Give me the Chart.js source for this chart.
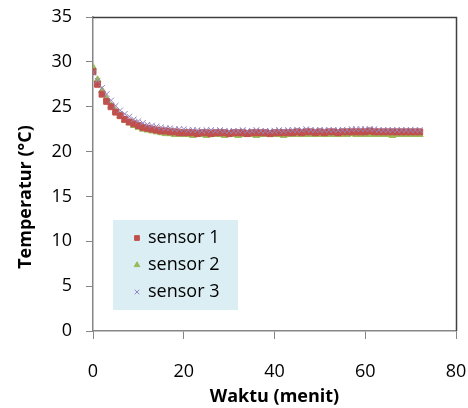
<!DOCTYPE html>
<html>
<head>
<meta charset="utf-8">
<script src="https://cdn.jsdelivr.net/npm/chart.js@4.4.1/dist/chart.umd.min.js"></script>
<style>
  html, body { margin: 0; padding: 0; background: #fff; }
  #wrap { width: 468px; height: 408px; }
</style>
</head>
<body>
<div id="wrap"><canvas id="tempChart" width="468" height="408"></canvas></div>
<script>
// sample times (minutes)
const minutes = [
  0,1,2,3,4,5,6,7,8,9,10,11,12,13,14,15,16,17,18,19,20,21,22,23,24,
  25,26,27,28,29,30,31,32,33,34,35,36,37,38,39,40,41,42,43,44,45,46,47,48,49,
  50,51,52,53,54,55,56,57,58,59,60,61,62,63,64,65,66,67,68,69,70,71,72
];

const sensor1 = [
  28.9,27.5,26.4,25.6,25.0,24.4,24.0,23.6,23.3,23.1,
  22.9,22.7,22.6,22.5,22.4,22.3,22.3,22.2,22.2,22.1,
  22.1,22.1,22.1,22.0,22.1,22.1,22.0,22.1,22.1,22.1,
  22.0,22.1,22.1,22.1,22.0,22.1,22.1,22.1,22.1,22.0,
  22.1,22.1,22.1,22.1,22.1,22.2,22.1,22.2,22.2,22.1,
  22.2,22.1,22.2,22.2,22.1,22.2,22.2,22.2,22.2,22.2,
  22.2,22.3,22.2,22.2,22.2,22.2,22.2,22.2,22.2,22.2,
  22.2,22.2,22.2
];

const sensor2 = [
  29.4,28.0,26.8,25.9,25.1,24.5,24.0,23.5,23.2,22.9,
  22.7,22.5,22.4,22.3,22.2,22.1,22.0,22.0,21.9,21.9,
  21.9,21.9,21.8,21.9,21.9,21.8,21.9,21.9,21.9,21.8,
  21.9,21.9,21.8,21.9,21.9,21.9,21.8,21.9,21.9,21.9,
  21.9,21.9,21.8,21.9,21.9,21.9,21.9,21.9,21.9,21.9,
  21.9,21.9,21.9,21.9,21.9,21.9,21.9,22.0,21.9,21.9,
  21.9,21.9,21.9,21.9,21.9,21.9,21.8,21.9,21.9,21.9,
  21.9,21.9,21.9
];

const sensor3 = [
  28.8,27.9,27.1,26.4,25.7,25.1,24.6,24.2,23.9,23.6,
  23.4,23.2,23.0,22.9,22.8,22.7,22.6,22.6,22.5,22.5,
  22.5,22.4,22.4,22.4,22.3,22.4,22.4,22.3,22.4,22.3,
  22.3,22.3,22.3,22.4,22.3,22.3,22.4,22.3,22.3,22.3,
  22.3,22.4,22.3,22.4,22.4,22.4,22.4,22.5,22.4,22.4,
  22.4,22.4,22.4,22.4,22.4,22.4,22.4,22.5,22.5,22.5,
  22.5,22.5,22.5,22.4,22.4,22.4,22.4,22.4,22.4,22.4,
  22.4,22.4,22.4
];

const seriesNames = ['sensor 1', 'sensor 2', 'sensor 3'];
const xTicks = [0, 20, 40, 60, 80];
const yTicks = [0, 5, 10, 15, 20, 25, 30, 35];

const FONT = '"Open Sans", "Liberation Sans", sans-serif';
const AXIS_GREY = '#868686';

const toPoints = vals => vals.map((v, i) => ({ x: minutes[i], y: v }));

// inset legend, y title and dark top/right frame, like the spreadsheet original
const insetLegend = {
  id: 'insetLegend',
  afterDraw(chart) {
    const { ctx, chartArea: a } = chart;
    ctx.save();
    ctx.strokeStyle = '#404040';
    ctx.lineWidth = 1.5;
    ctx.beginPath();
    ctx.moveTo(a.left, a.top + 0.5);
    ctx.lineTo(a.right + 0.5, a.top + 0.5);
    ctx.lineTo(a.right + 0.5, a.bottom);
    ctx.stroke();

    // y axis title sits a bit below the plot centre in the original
    ctx.save();
    ctx.translate(26, 197);
    ctx.rotate(-Math.PI / 2);
    ctx.font = 'bold 18px ' + FONT;
    ctx.fillStyle = '#000';
    ctx.textAlign = 'center';
    ctx.textBaseline = 'middle';
    ctx.fillText('Temperatur (°C)', 0, 0);
    ctx.restore();

    const bx = 113, by = 220, bw = 125, bh = 90;
    ctx.fillStyle = '#DAEEF3';
    ctx.fillRect(bx, by, bw, bh);
    ctx.font = '18px ' + FONT;
    ctx.textBaseline = 'middle';
    chart.data.datasets.forEach((ds, i) => {
      const y = by + 18 + i * 27;
      ctx.fillStyle = ds.backgroundColor;
      ctx.strokeStyle = ds.borderColor;
      ctx.lineWidth = 1;
      Chart.helpers.drawPoint(ctx, {
        pointStyle: ds.pointStyle, radius: ds.pointRadius * 0.8, rotation: 0, borderWidth: 1
      }, 137, y);
      ctx.fillStyle = '#000';
      ctx.fillText(ds.label, 148, y);
    });
    ctx.restore();
  }
};

new Chart(document.getElementById('tempChart'), {
  type: 'scatter',
  data: {
    datasets: [
      { label: seriesNames[0], data: toPoints(sensor1), pointStyle: 'rect', pointRadius: 4.2,
        backgroundColor: '#C0504D', borderColor: '#C0504D', borderWidth: 1, order: 1 },
      { label: seriesNames[1], data: toPoints(sensor2), pointStyle: 'triangle', pointRadius: 4,
        backgroundColor: '#9BBB59', borderColor: '#9BBB59', borderWidth: 1, order: 2 },
      { label: seriesNames[2], data: toPoints(sensor3), pointStyle: 'crossRot', pointRadius: 4,
        backgroundColor: '#9484C0', borderColor: '#9484C0', borderWidth: 1, order: 0 }
    ]
  },
  options: {
    responsive: false,
    animation: false,
    layout: { padding: { top: 17, right: 12, left: 0, bottom: 0 } },
    plugins: { legend: { display: false }, tooltip: { enabled: false } },
    scales: {
      x: {
        type: 'linear', min: 0, max: 80,
        afterBuildTicks: s => { s.ticks = xTicks.map(v => ({ value: v })); },
        afterFit: s => { s.height = 77; s.paddingLeft = 0; s.paddingRight = 0; },
        grid: { drawOnChartArea: false, drawTicks: true, tickLength: 8, color: AXIS_GREY },
        border: { color: AXIS_GREY, width: 1.5 },
        ticks: { color: '#000', font: { family: FONT, size: 18 }, padding: 22 },
        title: { display: true, text: 'Waktu (menit)', color: '#000',
          font: { family: FONT, size: 18, weight: 'bold' }, padding: { top: 0, bottom: 0 } }
      },
      y: {
        type: 'linear', min: 0, max: 35,
        afterBuildTicks: s => { s.ticks = yTicks.map(v => ({ value: v })); },
        afterFit: s => { s.width = 93; s.paddingTop = 0; s.paddingBottom = 0; },
        grid: { drawOnChartArea: false, drawTicks: true, tickLength: 7, color: AXIS_GREY },
        border: { color: AXIS_GREY, width: 1.5 },
        ticks: { color: '#000', font: { family: FONT, size: 18 }, padding: 14 },
        title: { display: false }
      }
    }
  },
  plugins: [insetLegend]
});
</script>
</body>
</html>
